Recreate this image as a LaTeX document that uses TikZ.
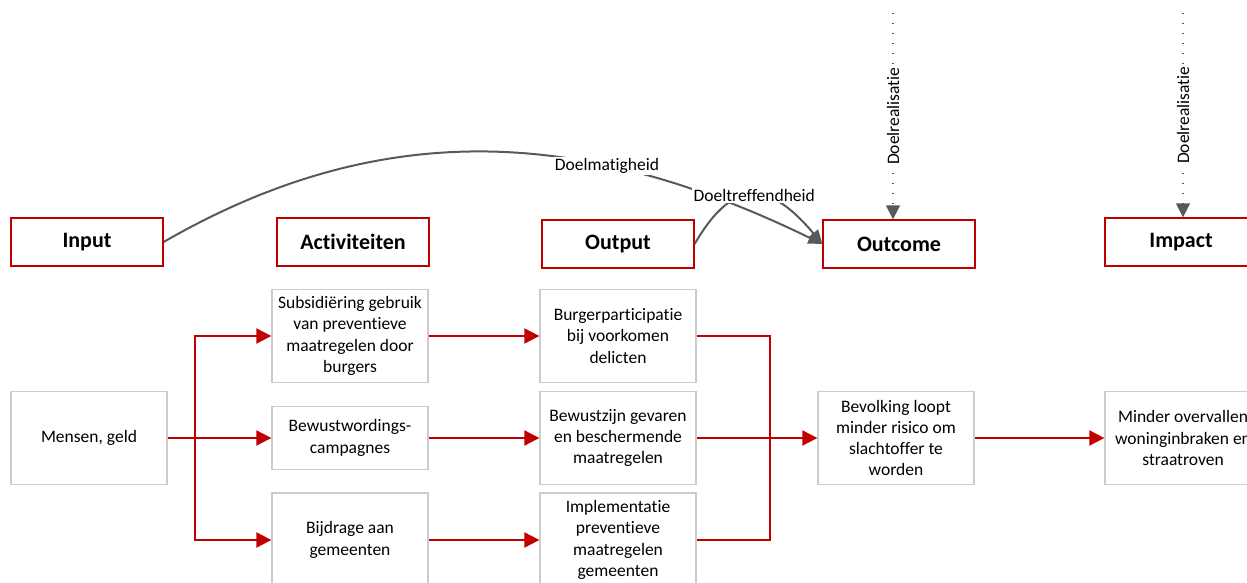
\documentclass[tikz,border=0pt]{standalone}
\usepackage{fontspec}
\setmainfont{Carlito}[Ligatures={NoCommon,NoContextual,NoRequired}, RawFeature={-calt}]
\usetikzlibrary{arrows.meta}
\definecolor{kpired}{HTML}{C00000}
\definecolor{kpigray}{HTML}{595959}
\definecolor{boxgray}{HTML}{CCCCCC}
\tikzset{
	head/.style={draw=kpired, line width=1.3pt, minimum width=152pt, minimum height=48pt, inner sep=0pt, font=\fontsize{22}{26}\selectfont\bfseries},
	stap/.style={draw=boxgray, line width=1.3pt, minimum width=156pt, minimum height=93pt, align=center, inner sep=0pt, font=\fontsize{17.5}{21.3}\selectfont},
	flow/.style={draw=kpired, line width=2pt, -{Triangle[length=15pt,width=15pt]}},
	flowline/.style={draw=kpired, line width=2pt},
	effect/.style={draw=kpigray, line width=2pt, -{Triangle[length=14pt,width=12pt]}},
	goal/.style={draw=kpigray, line width=1.5pt, dash pattern=on 1.5pt off 8.5pt, -{Triangle[length=14pt,width=14pt]}},
	tag/.style={fill=white, inner sep=1.5pt, font=\fontsize{17.5}{21}\selectfont},
}

\begin{document}
\begin{tikzpicture}[x=1pt, y=1pt]
		%%%%% START %%%%%
		\useasboundingbox (0, 0) rectangle (1247, 583);
		\clip (0, 0) rectangle (1247, 583);
		
		% kopjes
		\node[head] (in) at (87, 341) {Input};
		\node[head] (act) at (353, 341) {Activiteiten};
		\node[head] (out) at (618, 339) {Output};
		\node[head] (oc) at (899, 339) {Outcome};
		\node[head] (ip) at (1181, 341) {Impact};
		
		% stappen
		\node[stap] (mg) at (89, 145) {Mensen, geld};
		\node[stap] (sub) at (350, 247) {Subsidiëring gebruik\\ van preventieve\\ maatregelen door\\ burgers};
		\node[stap, minimum height=63pt] (bwc) at (350, 145) {Bewustwordings-\\ campagnes};
		\node[stap, minimum height=94pt] (bij) at (350, 43) {Bijdrage aan\\ gemeenten};
		\node[stap] (bp) at (618, 247) {Burgerparticipatie\\ bij voorkomen\\ delicten};
		\node[stap] (bz) at (618, 145) {Bewustzijn gevaren\\ en beschermende\\ maatregelen};
		\node[stap, minimum height=94pt] (imp) at (618, 43) {Implementatie\\ preventieve\\ maatregelen\\ gemeenten};
		\node[stap] (bev) at (896, 145) {Bevolking loopt\\ minder risico om\\ slachtoffer te\\ worden};
		\node[stap] (mo) at (1183, 145) {Minder overvallen\\ woninginbraken en\\ straatroven};
		
		\coordinate (j1) at (195, 145);
		\coordinate (j2) at (770, 145);
		\coordinate (dr1) at (893, 570);
		\coordinate (dr2) at (1183, 570);
		
		% rode pijlen
		\draw[flow] (mg.east) -- (j1) |- (sub.west);
		\draw[flow] (mg.east) -- (bwc.west);
		\draw[flow] (mg.east) -- (j1) |- (bij.west);
		
		\draw[flow] (sub) -- (bp);
		\draw[flow] (bwc) -- (bz);
		\draw[flow] (bij.east |- imp.west) -- (imp.west);
		
		\draw[flowline] (bp.east) -| (j2);
		\draw[flowline] (imp.east) -| (j2);
		\draw[flow] (bz.east) -- (bev.west);
		\draw[flow] (bev) -- (mo);
		
		% grijze pijlen
		\draw[effect] (in.east) to[out=30, in=154] node[tag, pos=0.68] {Doelmatigheid} (oc.west);
		\draw[effect] (out.east) to[out=60, in=130, looseness=1.6] node[tag, pos=0.5] {Doeltreffendheid} (oc.west);
		
		\draw[goal] (dr1) -- (dr1 |- oc.north) node[tag, rotate=90, pos=0.5] {Doelrealisatie};
		\draw[goal] (dr2) -- (dr2 |- ip.north) node[tag, rotate=90, pos=0.5] {Doelrealisatie};
		
		%%%%% END %%%%%
	\end{tikzpicture}
\end{document}
